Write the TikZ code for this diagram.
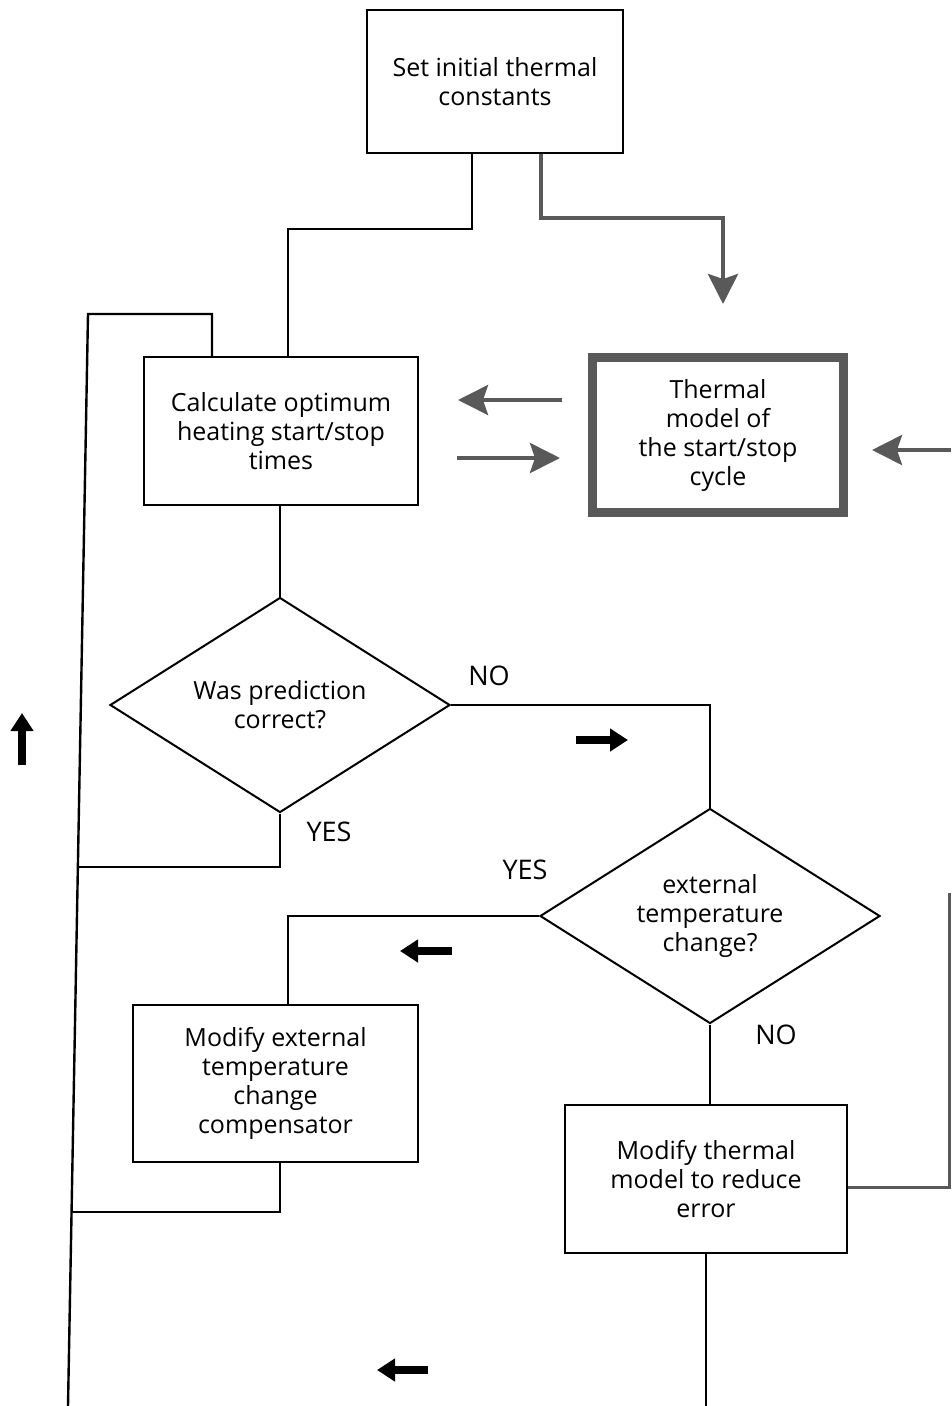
\documentclass[tikz,border=0pt]{standalone}
\usepackage{fontspec}
\setmainfont{Open Sans}
\usetikzlibrary{shapes.geometric,arrows.meta,calc}
\begin{document}
\begin{tikzpicture}[x=1pt,y=-1pt,
  every node/.style={font=\fontsize{25}{29}\selectfont, align=center, inner sep=0pt},
  box/.style={draw, line width=2pt, rectangle},
  decision/.style={draw, line width=2pt, diamond, aspect=1.6},
  flow/.style={line width=2.4pt},
  hatch/.style={draw=black!65, line width=4pt},
  hatcharrow/.style={hatch, -{Stealth[length=30pt 0,width=30pt 0,inset=5pt 0]}},
  blockarrow/.style={line width=8pt, -{Triangle[length=18pt 0,width=22pt 0]}},
  answer/.style={font=\fontsize{27}{29}\selectfont}
]
\useasboundingbox (0,0) rectangle (951,1406);

% process boxes and decisions
\node[box, minimum width=256pt, minimum height=143pt] (init) at (495,81.5) {Set initial thermal\\constants};
\node[box, minimum width=274pt, minimum height=148pt] (calc) at (281,431) {Calculate optimum\\heating start/stop\\times};
\node[draw=black!65, line width=9pt, minimum width=251pt, minimum height=155pt] (model) at (718,435) {Thermal\\model of\\the start/stop\\cycle};
\node[decision, minimum width=340pt, minimum height=215pt] (pred) at (280,705) {Was prediction\\correct?};
\node[decision, minimum width=340pt, minimum height=215pt] (ext) at (710,916) {external\\temperature\\change?};
\node[box, minimum width=285pt, minimum height=157pt] (modext) at (275.5,1083.5) {Modify external\\temperature\\change\\compensator};
\node[box, minimum width=282pt, minimum height=148pt] (modth) at (706,1179) {Modify thermal\\model to reduce\\error};

% branch labels
\node[answer] (no1) at (489,676) {NO};
\node[answer] (yes1) at (329,832) {YES};
\node[answer] (yes2) at (525,870) {YES};
\node[answer] (no2) at (776,1035) {NO};

% bend points and free ends
\coordinate (bendA) at (472,229);
\coordinate (busTop) at (88,314);
\coordinate (busBot) at (68,1406);
\coordinate (loopR) at (212,314);
\coordinate (join1) at (78,867);
\coordinate (join2) at (72,1212);
\coordinate (gbend) at (541,218);
\coordinate (gtip) at (723,304);
\coordinate (outBot) at (706,1406);
\coordinate (gcorner) at (949,1187);
\coordinate (gtop) at (949,893);
\coordinate (gin) at (951,450);
\coordinate (gintip) at (872,450);
\coordinate (t1) at (562,400);
\coordinate (h1) at (458,400);
\coordinate (t2) at (457,458);
\coordinate (h2) at (560,458);

% main flow
\draw[flow] (init.south -| bendA) -- (bendA) -| (calc.north -| 288,0);
\draw[flow] (calc.north -| loopR) -- (loopR) -- (busTop) -- (busBot);
\draw[flow] (calc.south -| pred.north) -- (pred.north);
\draw[flow] (pred.south) |- (join1);
\draw[flow] (pred.east) -| (ext.north);
\draw[flow] (ext.west) -| ($(modext.north)+(12.5,0)$);
\draw[flow] (ext.south) -- (ext.south |- modth.north);
\draw[flow] (modext.south -| 280,0) |- (join2);
\draw[flow] (modth.south) -- (outBot);

% model data paths
\draw[hatcharrow] (init.south -| gbend) -- (gbend) -| (gtip);
\draw[hatcharrow] (t1) -- (h1);
\draw[hatcharrow] (t2) -- (h2);
\draw[hatcharrow] (gin) -- (gintip);
\draw[hatch, line width=3pt] (modth.east |- gcorner) -- (gcorner) -- (gtop);

% direction markers
\coordinate (u1) at (22,765); \coordinate (u2) at (22,713);
\coordinate (r1) at (576,740); \coordinate (r2) at (628,740);
\coordinate (l1) at (452,951); \coordinate (l2) at (400,951);
\coordinate (b1) at (428,1370); \coordinate (b2) at (377,1370);
\draw[blockarrow] (u1) -- (u2);
\draw[blockarrow] (r1) -- (r2);
\draw[blockarrow] (l1) -- (l2);
\draw[blockarrow] (b1) -- (b2);
\end{tikzpicture}
\end{document}
